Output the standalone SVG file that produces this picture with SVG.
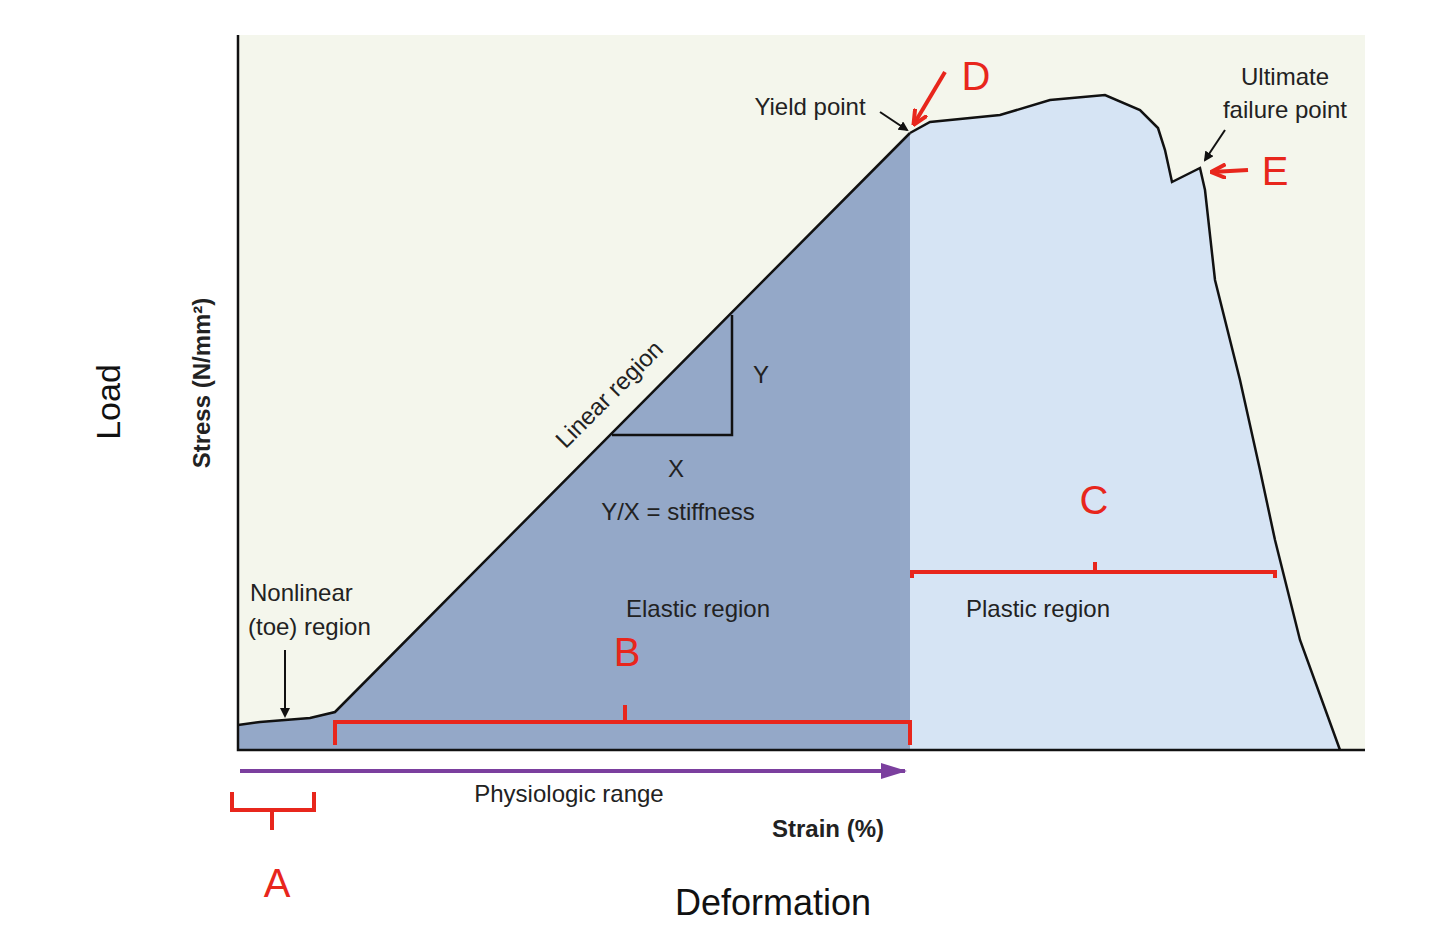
<svg xmlns="http://www.w3.org/2000/svg" width="1440" height="936" viewBox="0 0 1440 936">
<defs>
<style>
.t{font-family:"Liberation Sans",Arial,sans-serif;fill:#222;font-size:24px}
.r{font-family:"Liberation Sans",Arial,sans-serif;fill:#e8261c;font-size:40px}
.rl{fill:none;stroke:#e8261c;stroke-width:4}
.k{fill:none;stroke:#111;stroke-width:2.5}
</style>
<marker id="ab" markerWidth="10" markerHeight="10" refX="8" refY="5" orient="auto" markerUnits="userSpaceOnUse"><path d="M0,0 L10,5 L0,10 z" fill="#111"/></marker>
<marker id="ar" markerWidth="16" markerHeight="16" refX="14" refY="8" orient="auto" markerUnits="userSpaceOnUse"><path d="M0,1 L15,8 L0,15" fill="none" stroke="#e8261c" stroke-width="4"/></marker>
<marker id="ap" markerWidth="26" markerHeight="16" refX="24" refY="8" orient="auto" markerUnits="userSpaceOnUse"><path d="M0,0 L26,8 L0,16 z" fill="#7b3f9e"/></marker>
</defs>
<rect width="1440" height="936" fill="#fff"/>
<rect x="238" y="35" width="1127" height="715" fill="#f4f6ec"/>
<g id="plastic"><path d="M910,133 L930,122 L1000,115 L1050,100 L1105,95 L1140,110 L1158,128 L1165,150 L1172,182 L1200,168 L1205,190 L1215,280 L1240,380 L1260,470 L1275,540 L1300,640 L1340,750 L910,750 Z" fill="#d6e4f4" stroke="none"/>
<path d="M910,133 L930,122 L1000,115 L1050,100 L1105,95 L1140,110 L1158,128 L1165,150 L1172,182 L1200,168 L1205,190 L1215,280 L1240,380 L1260,470 L1275,540 L1300,640 L1340,750" class="k"/></g>
<g id="elastic"><path d="M238,725 L260,722 L285,720 L310,718 L335,712 L910,133 L910,750 L238,750 Z" fill="#94a8c8"/>
<path d="M238,725 L260,722 L285,720 L310,718 L335,712 L910,133" class="k"/></g>
<g id="axes"><path d="M238,35 L238,750 L1365,750" class="k"/></g>
<g id="triangle"><path d="M612,435 L732,435 L732,315" class="k"/></g>
<g id="connectors">
<path d="M285,650 L285,716" stroke="#111" stroke-width="2" marker-end="url(#ab)"/>
<path d="M880,112 L907,130" stroke="#111" stroke-width="2" marker-end="url(#ab)"/>
<path d="M1225,130 L1205,160" stroke="#111" stroke-width="2" marker-end="url(#ab)"/>
<path d="M945,72 L914,124" class="rl" marker-end="url(#ar)"/>
<path d="M1248,170 L1212,172" class="rl" marker-end="url(#ar)"/>
<path d="M240,771 L905,771" stroke="#7b3f9e" stroke-width="4" marker-end="url(#ap)"/>
<path d="M335,745 L335,722 L910,722 L910,745 M625,722 L625,705" class="rl"/>
<path d="M912,578 L912,572 L1275,572 L1275,578 M1095,572 L1095,562" class="rl"/>
<path d="M232,792 L232,810 L314,810 L314,792 M272,810 L272,830" class="rl"/>
</g>
<g id="labels">
<text class="t" x="810" y="115" text-anchor="middle">Yield point</text>
<text class="t" x="1285" y="85" text-anchor="middle">Ultimate</text>
<text class="t" x="1285" y="118" text-anchor="middle">failure point</text>
<text class="t" x="615" y="400" transform="rotate(-45 615 400)" text-anchor="middle">Linear region</text>
<text class="t" x="753" y="383">Y</text>
<text class="t" x="676" y="477" text-anchor="middle">X</text>
<text class="t" x="678" y="520" text-anchor="middle">Y/X = stiffness</text>
<text class="t" x="250" y="601">Nonlinear</text>
<text class="t" x="248" y="635">(toe) region</text>
<text class="t" x="698" y="617" text-anchor="middle">Elastic region</text>
<text class="t" x="1038" y="617" text-anchor="middle">Plastic region</text>
<text class="t" x="569" y="802" text-anchor="middle">Physiologic range</text>
<text class="t" x="828" y="837" text-anchor="middle" font-weight="bold">Strain (%)</text>
<text class="t" x="210" y="383" transform="rotate(-90 210 383)" text-anchor="middle" font-weight="bold">Stress (N/mm²)</text>
<text x="120" y="402" transform="rotate(-90 120 402)" text-anchor="middle" font-family="Liberation Sans,Arial,sans-serif" font-size="34" fill="#111">Load</text>
<text x="773" y="915" text-anchor="middle" font-family="Liberation Sans,Arial,sans-serif" font-size="36" fill="#111">Deformation</text>
<text class="r" x="976" y="90" text-anchor="middle">D</text>
<text class="r" x="1275" y="185" text-anchor="middle">E</text>
<text class="r" x="1094" y="514" text-anchor="middle">C</text>
<text class="r" x="627" y="666" text-anchor="middle">B</text>
<text class="r" x="277" y="897" text-anchor="middle">A</text>
</g>
</svg>
